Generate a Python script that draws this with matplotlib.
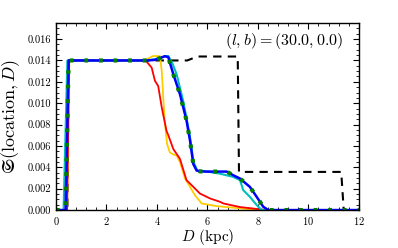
import numpy as np
import matplotlib
matplotlib.use('Agg')
import matplotlib.pyplot as plt
from matplotlib.ticker import AutoMinorLocator

plt.rcParams['font.family'] = 'serif'
plt.rcParams['font.serif'] = ['cmr10']
plt.rcParams['mathtext.fontset'] = 'cm'
plt.rcParams['axes.formatter.use_mathtext'] = True

# black dashed: reference model
d_ref = [0.0, 0.45, 0.50, 5.2, 5.6, 7.2, 7.25, 11.3, 11.4, 12.0]
s_ref = [0.0, 0.0, 0.0140, 0.0140, 0.01437, 0.01437, 0.00357, 0.00357, 0.0, 0.0]

# yellow
d_y = [0.0, 0.44, 0.53, 3.5, 3.85, 4.12, 4.19, 4.30, 4.40, 4.51, 4.65, 4.78, 4.91,
       5.11, 5.31, 5.50, 5.77, 6.36, 7.29, 7.80, 8.2, 12.0]
s_y = [0.0, 0.0, 0.0140, 0.0140, 0.01442, 0.0144, 0.0130, 0.0085, 0.0062, 0.0054,
       0.0052, 0.0051, 0.0045, 0.00295, 0.00217, 0.0014, 0.00062, 0.00037, 0.00016,
       0.00006, 0.0, 0.0]

# red
d_r = [0.0, 0.44, 0.52, 3.55, 3.79, 3.92, 4.05, 4.19, 4.38, 4.45, 4.65, 4.91, 5.17,
       5.44, 5.70, 6.10, 6.50, 6.63, 7.29, 8.08, 8.4, 12.0]
s_r = [0.0, 0.0, 0.0140, 0.0140, 0.01333, 0.0121, 0.0116, 0.0096, 0.0074, 0.0070,
       0.0057, 0.0048, 0.0028, 0.00217, 0.00155, 0.00109, 0.00077, 0.00062,
       0.00028, 0.00007, 0.0, 0.0]

# cyan
d_c = [0.0, 0.30, 0.45, 3.6, 4.0, 4.3, 4.45, 4.6, 4.78, 5.04, 5.30, 5.45, 5.60,
       6.0, 6.5, 7.02, 7.29, 7.42, 7.68, 7.95, 8.15, 12.0]
s_c = [0.0, 0.0, 0.0140, 0.0140, 0.01415, 0.0144, 0.01442, 0.0138, 0.0127, 0.0102,
       0.0070, 0.0045, 0.0037, 0.0036, 0.0034, 0.0031, 0.0028, 0.00186, 0.00124,
       0.00047, 0.0, 0.0]

# blue
d_b = [0.0, 0.38, 0.50, 3.6, 3.9, 4.1, 4.32, 4.45, 4.65, 4.91, 5.17, 5.31, 5.44,
       5.57, 5.70, 5.97, 6.50, 6.76, 7.02, 7.29, 7.68, 7.95, 8.21, 8.41, 12.0]
s_b = [0.0, 0.0, 0.0140, 0.0140, 0.01405, 0.0142, 0.0144, 0.0143, 0.0127, 0.01085,
       0.0084, 0.0065, 0.0043, 0.0037, 0.00362, 0.0036, 0.0036, 0.0036, 0.00326,
       0.00295, 0.00217, 0.00124, 0.00031, 0.0, 0.0]

# green dotted follows blue
d_g = d_b
s_g = s_b

fig = plt.figure(figsize=(3.98, 2.48), dpi=100)
ax = fig.add_axes([0.1407, 0.153, 0.761, 0.754])

ax.plot(d_ref, s_ref, color='k', ls='--', lw=1.5, dashes=(4, 3))
ax.plot(d_y, s_y, color='#ffcc00', lw=1.3)
ax.plot(d_r, s_r, color='r', lw=1.3)
ax.plot(d_c, s_c, color='c', lw=1.5)
ax.plot(d_b, s_b, color='b', lw=1.8)
ax.plot(d_g, s_g, color='g', ls=':', lw=3.0, dashes=(0.9, 2.6))

ax.set_xlim(0, 12)
ax.set_ylim(0, 0.0175)
ax.set_xticks([0, 2, 4, 6, 8, 10, 12])
ax.set_yticks(np.arange(0, 0.0161, 0.002))
ax.set_yticklabels(['%.3f' % v for v in np.arange(0, 0.0161, 0.002)])
ax.xaxis.set_minor_locator(AutoMinorLocator(5))
ax.yaxis.set_minor_locator(AutoMinorLocator(4))
ax.tick_params(which='both', direction='in', top=True, right=True, labelsize=7.5)
ax.tick_params(which='major', length=4, width=0.8)
ax.tick_params(which='minor', length=2, width=0.6)
for sp in ax.spines.values():
    sp.set_linewidth(1.0)

ax.set_xlabel(r'$D$ (kpc)', fontsize=11, labelpad=0)
ax.set_ylabel(r'$\mathfrak{S}(\mathrm{location},D)$', fontsize=13, labelpad=4)
ax.text(0.948, 0.904, r'$(l,b)=(30.0,0.0)$', transform=ax.transAxes,
        ha='right', va='center', fontsize=11.5)

fig.savefig('out.png', dpi=100)
